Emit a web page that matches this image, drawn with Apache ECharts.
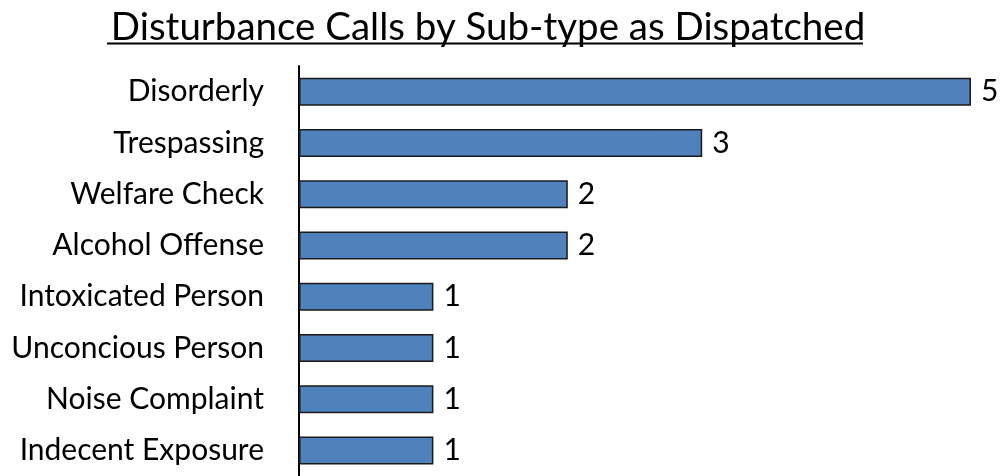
<!DOCTYPE html>
<html>
<head>
<meta charset="utf-8">
<script src="https://cdn.jsdelivr.net/npm/echarts@6/dist/echarts.min.js"></script>
<style>
html, body { margin: 0; padding: 0; background: #fff; }
#chart { width: 1000px; height: 476px; }
</style>
</head>
<body>
<div id="chart"></div>
<script>
var titleText = "Disturbance Calls by Sub-type as Dispatched";
var categories = ["Disorderly", "Trespassing", "Welfare Check", "Alcohol Offense",
	"Intoxicated Person", "Unconcious Person", "Noise Complaint", "Indecent Exposure"];
var counts = [5, 3, 2, 2, 1, 1, 1, 1];

var font = "Lato";
var chart = echarts.init(document.getElementById("chart"));

chart.setOption({
	animation: false,
	title: {
		text: titleText,
		left: 483,
		textAlign: "center",
		top: 3,
		textStyle: { fontFamily: font, fontSize: 38.5, fontWeight: "normal", color: "#000" }
	},
	// underline of the title
	graphic: [
		{ type: "line", shape: { x1: 107, y1: 43.5, x2: 863, y2: 43.5 }, style: { stroke: "#000", lineWidth: 2 } }
	],
	grid: { left: 299, right: 29, top: 66, bottom: -7, containLabel: false },
	xAxis: {
		type: "value",
		min: 0,
		max: 5,
		show: false
	},
	yAxis: {
		type: "category",
		data: categories,
		inverse: true,
		axisLine: { show: true, lineStyle: { color: "#000", width: 2 } },
		axisTick: { show: false },
		axisLabel: { fontFamily: font, fontSize: 30, color: "#000", margin: 35 }
	},
	series: [{
		type: "bar",
		data: counts,
		barWidth: 28,
		itemStyle: { color: "#4F81BD", borderColor: "#1a1a1a", borderWidth: 1.5 },
		label: { show: true, position: "right", distance: 10, fontFamily: font, fontSize: 30, color: "#000" }
	}]
});
</script>
</body>
</html>
